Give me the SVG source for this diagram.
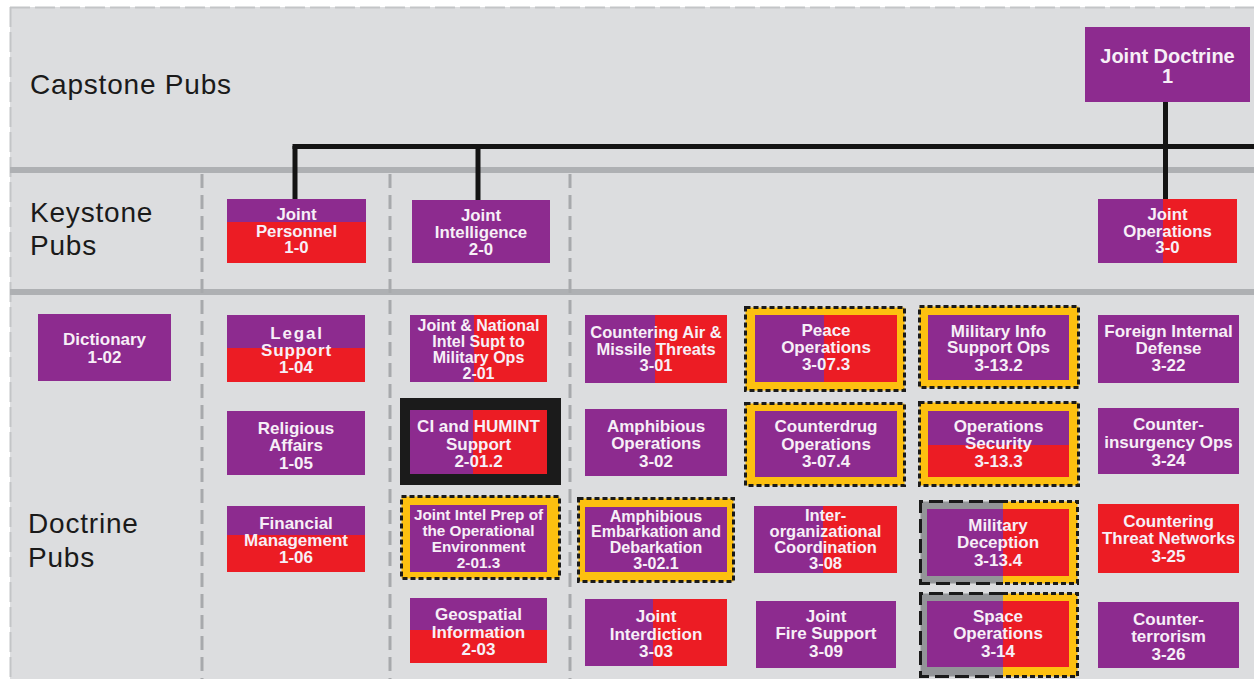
<svg xmlns="http://www.w3.org/2000/svg" width="1254" height="679" viewBox="0 0 1254 679">
<style>
.bg{fill:#dcdddf}
.sep{fill:#aeb0b3}
.vd{stroke:#a7a9ac;stroke-width:3;stroke-dasharray:14 7;fill:none}
.edge{stroke:#c3c5c7;stroke-width:2;stroke-dasharray:20 5;fill:none}
.conn{stroke:#141414;stroke-width:5;fill:none}
.p{fill:#8d2b8f}
.r{fill:#ec1c24}
.yf{fill:#fdc010;stroke:#1a1a1a;stroke-width:3;stroke-dasharray:5 3}
.yfill{fill:#fdc010}
.gfill{fill:#939598}
.dot{fill:none;stroke:#1a1a1a;stroke-width:3;stroke-dasharray:5 3}
.dash{fill:none;stroke:#1a1a1a;stroke-width:3;stroke-dasharray:14 6}
.bf{fill:#1b1b1b}
.lbl{font-family:"Liberation Sans",Arial,sans-serif;font-size:28px;fill:#1a1a1a;letter-spacing:0.8px}
.t{font-family:"Liberation Sans",Arial,sans-serif;font-weight:bold;font-size:17px;fill:#f7eff7;text-anchor:middle}
.k{font-size:16.8px}
.cap{font-size:20px}
.f165{font-size:16.5px}
.f16{font-size:16px}
.f15{font-size:15.3px}
</style>

<g id="background">
<rect class="bg" x="10" y="7" width="1244" height="672"/>
<path class="edge" d="M10,7.5 H1254 M10.5,7 V679"/>
<rect class="sep" x="10" y="167" width="1244" height="6"/>
<rect class="sep" x="10" y="289" width="1244" height="6"/>
<path class="vd" d="M202,174 V679 M390,174 V679 M570,174 V679"/>
</g>

<g id="row-labels">
<text class="lbl" x="30" y="94">Capstone Pubs</text>
<text class="lbl" x="30" y="222">Keystone<tspan x="30" y="255">Pubs</tspan></text>
<text class="lbl" x="28" y="533">Doctrine<tspan x="28" y="567">Pubs</tspan></text>
</g>

<g id="connectors">
<path class="conn" d="M292.5,146.5 H1254"/>
<path class="conn" d="M295,146 V199"/>
<path class="conn" d="M478,146 V200"/>
<path class="conn" d="M1165.5,102 V199"/>
</g>

<g id="jp1">
<rect class="p" x="1085" y="27" width="165" height="75"/>
<text class="t cap" x="1167.5" y="63">Joint Doctrine</text>
<text class="t cap" x="1167.5" y="83">1</text>
</g>

<g id="jp1-0">
<rect class="p" x="227" y="199" width="139" height="23"/>
<rect class="r" x="227" y="222" width="139" height="41"/>
<text class="t k" x="296.5" y="220">Joint</text>
<text class="t k" x="296.5" y="236.5">Personnel</text>
<text class="t k" x="296.5" y="253">1-0</text>
</g>

<g id="jp2-0">
<rect class="p" x="412" y="200" width="138" height="63"/>
<text class="t k" x="481" y="221">Joint</text>
<text class="t k" x="481" y="238">Intelligence</text>
<text class="t k" x="481" y="255">2-0</text>
</g>

<g id="jp3-0">
<rect class="p" x="1098" y="199" width="65" height="64"/>
<rect class="r" x="1163" y="199" width="74" height="64"/>
<text class="t k" x="1167.5" y="220">Joint</text>
<text class="t k" x="1167.5" y="236.5">Operations</text>
<text class="t k" x="1167.5" y="253">3-0</text>
</g>

<g id="jp1-02">
<rect class="p" x="38" y="314" width="133" height="67"/>
<text class="t" x="104.5" y="345">Dictionary</text>
<text class="t" x="104.5" y="363">1-02</text>
</g>

<g id="jp1-04">
<rect class="p" x="227" y="315" width="138" height="33"/>
<rect class="r" x="227" y="348" width="138" height="34"/>
<text class="t" x="297" y="338.5" style="letter-spacing:1.8px">Legal</text>
<text class="t" x="296.5" y="355.5" style="letter-spacing:0.8px">Support</text>
<text class="t" x="296" y="372.5">1-04</text>
</g>

<g id="jp1-05">
<rect class="p" x="227" y="411" width="138" height="64"/>
<text class="t" x="296" y="433.5">Religious</text>
<text class="t" x="296" y="451">Affairs</text>
<text class="t" x="296" y="468.5">1-05</text>
</g>

<g id="jp1-06">
<rect class="p" x="227" y="506" width="138" height="29"/>
<rect class="r" x="227" y="535" width="138" height="37"/>
<text class="t" x="296" y="528.5">Financial</text>
<text class="t" x="296" y="545.5">Management</text>
<text class="t" x="296" y="562.5">1-06</text>
</g>

<g id="jp2-01">
<rect class="p" x="410" y="315" width="64" height="67"/>
<rect class="r" x="474" y="315" width="73" height="67"/>
<text class="t f16" x="478.5" y="331">Joint &amp; National</text>
<text class="t f16" x="478.5" y="347">Intel Supt to</text>
<text class="t f16" x="478.5" y="363">Military Ops</text>
<text class="t f16" x="478.5" y="379">2-01</text>
</g>

<g id="jp2-01-2">
<rect class="bf" x="400" y="398" width="161" height="87"/>
<rect class="p" x="410" y="410" width="63" height="64"/>
<rect class="r" x="473" y="410" width="74" height="64"/>
<text class="t" x="478.5" y="432">CI and HUMINT</text>
<text class="t" x="478.5" y="449.5">Support</text>
<text class="t" x="478.5" y="467">2-01.2</text>
</g>

<g id="jp2-01-3">
<rect class="yf" x="401.5" y="496.5" width="158" height="82"/>
<rect class="p" x="410" y="505" width="137" height="67"/>
<text class="t f15" x="478.5" y="520">Joint Intel Prep of</text>
<text class="t f15" x="478.5" y="536">the Operational</text>
<text class="t f15" x="478.5" y="551.7">Environment</text>
<text class="t f15" x="478.5" y="568">2-01.3</text>
</g>

<g id="jp2-03">
<rect class="p" x="410" y="598" width="137" height="32"/>
<rect class="r" x="410" y="630" width="137" height="33"/>
<text class="t" x="478.5" y="620">Geospatial</text>
<text class="t" x="478.5" y="638">Information</text>
<text class="t" x="478.5" y="655">2-03</text>
</g>

<g id="jp3-01">
<rect class="p" x="585" y="315" width="70" height="68"/>
<rect class="r" x="655" y="315" width="72" height="68"/>
<text class="t f165" x="656" y="338">Countering Air &amp;</text>
<text class="t f165" x="656" y="354.5">Missile Threats</text>
<text class="t f165" x="656" y="371">3-01</text>
</g>

<g id="jp3-02">
<rect class="p" x="585" y="409" width="142" height="67"/>
<text class="t" x="656" y="432">Amphibious</text>
<text class="t" x="656" y="449">Operations</text>
<text class="t" x="656" y="466.5">3-02</text>
</g>

<g id="jp3-02-1">
<rect class="yf" x="578.5" y="498.5" width="155" height="83"/>
<rect class="p" x="585" y="507" width="142" height="65"/>
<text class="t f16" x="656" y="521.7">Amphibious</text>
<text class="t f16" x="656" y="537.3">Embarkation and</text>
<text class="t f16" x="656" y="553.3">Debarkation</text>
<text class="t f16" x="656" y="569.3">3-02.1</text>
</g>

<g id="jp3-03">
<rect class="p" x="585" y="599" width="68" height="67"/>
<rect class="r" x="653" y="599" width="74" height="67"/>
<text class="t" x="656" y="622">Joint</text>
<text class="t" x="656" y="639.5">Interdiction</text>
<text class="t" x="656" y="657">3-03</text>
</g>

<g id="jp3-07-3">
<rect class="yf" x="745.5" y="307.5" width="159" height="83"/>
<rect class="p" x="755" y="315" width="69" height="67"/>
<rect class="r" x="824" y="315" width="73" height="67"/>
<text class="t" x="826" y="336">Peace</text>
<text class="t" x="826" y="353">Operations</text>
<text class="t" x="826" y="370">3-07.3</text>
</g>

<g id="jp3-07-4">
<rect class="yf" x="745.5" y="403.5" width="159" height="82"/>
<rect class="p" x="755" y="411" width="142" height="66"/>
<text class="t" x="826" y="432">Counterdrug</text>
<text class="t" x="826" y="449.5">Operations</text>
<text class="t" x="826" y="467">3-07.4</text>
</g>

<g id="jp3-08">
<rect class="p" x="754" y="506" width="69" height="67"/>
<rect class="r" x="823" y="506" width="74" height="67"/>
<text class="t f165" x="825.5" y="520.7">Inter-</text>
<text class="t f165" x="825.5" y="536.7">organizational</text>
<text class="t f165" x="825.5" y="552.7">Coordination</text>
<text class="t f165" x="825.5" y="569">3-08</text>
</g>

<g id="jp3-09">
<rect class="p" x="756" y="601" width="140" height="67"/>
<text class="t" x="826" y="622">Joint</text>
<text class="t" x="826" y="639">Fire Support</text>
<text class="t" x="826" y="656.5">3-09</text>
</g>

<g id="jp3-13-2">
<rect class="yf" x="919.5" y="306.5" width="159" height="81"/>
<rect class="p" x="928" y="315" width="141" height="65"/>
<text class="t" x="998.5" y="336.7">Military Info</text>
<text class="t" x="998.5" y="353.3">Support Ops</text>
<text class="t" x="998.5" y="371">3-13.2</text>
</g>

<g id="jp3-13-3">
<rect class="yf" x="919.5" y="402.5" width="159" height="83"/>
<rect class="p" x="928" y="411" width="141" height="34"/>
<rect class="r" x="928" y="445" width="141" height="32"/>
<text class="t" x="998.5" y="431.7">Operations</text>
<text class="t" x="998.5" y="449.3">Security</text>
<text class="t" x="998.5" y="466.7">3-13.3</text>
</g>

<g id="jp3-13-4">
<rect class="gfill" x="920.5" y="501.5" width="82.5" height="82"/>
<rect class="yfill" x="1003" y="501.5" width="74.5" height="82"/>
<path class="dash" d="M1003,501.5 H920.5 V583.5 H1003"/>
<path class="dot" d="M1003,501.5 H1077.5 V583.5 H1003"/>
<rect class="p" x="927" y="509" width="76" height="67"/>
<rect class="r" x="1003" y="509" width="66" height="67"/>
<text class="t" x="998" y="530.7">Military</text>
<text class="t" x="998" y="548.3">Deception</text>
<text class="t" x="998" y="566">3-13.4</text>
</g>

<g id="jp3-14">
<rect class="gfill" x="920.5" y="593.5" width="82.5" height="83"/>
<rect class="yfill" x="1003" y="593.5" width="74.5" height="83"/>
<path class="dash" d="M1003,593.5 H920.5 V676.5 H1003"/>
<path class="dot" d="M1003,593.5 H1077.5 V676.5 H1003"/>
<rect class="p" x="927" y="601" width="76" height="66"/>
<rect class="r" x="1003" y="601" width="66" height="66"/>
<text class="t" x="998" y="621.7">Space</text>
<text class="t" x="998" y="639.3">Operations</text>
<text class="t" x="998" y="656.7">3-14</text>
</g>

<g id="jp3-22">
<rect class="p" x="1098" y="315" width="141" height="68"/>
<text class="t" x="1168.5" y="336.7">Foreign Internal</text>
<text class="t" x="1168.5" y="353.5">Defense</text>
<text class="t" x="1168.5" y="371">3-22</text>
</g>

<g id="jp3-24">
<rect class="p" x="1098" y="408" width="141" height="66"/>
<text class="t" x="1168.5" y="430">Counter-</text>
<text class="t" x="1168.5" y="448.3">insurgency Ops</text>
<text class="t" x="1168.5" y="466">3-24</text>
</g>

<g id="jp3-25">
<rect class="r" x="1098" y="504" width="141" height="69"/>
<text class="t" x="1168.5" y="526.7">Countering</text>
<text class="t" x="1168.5" y="544">Threat Networks</text>
<text class="t" x="1168.5" y="561.7">3-25</text>
</g>

<g id="jp3-26">
<rect class="p" x="1098" y="602" width="141" height="66"/>
<text class="t" x="1168.5" y="625">Counter-</text>
<text class="t" x="1168.5" y="642.3">terrorism</text>
<text class="t" x="1168.5" y="660">3-26</text>
</g>
</svg>
